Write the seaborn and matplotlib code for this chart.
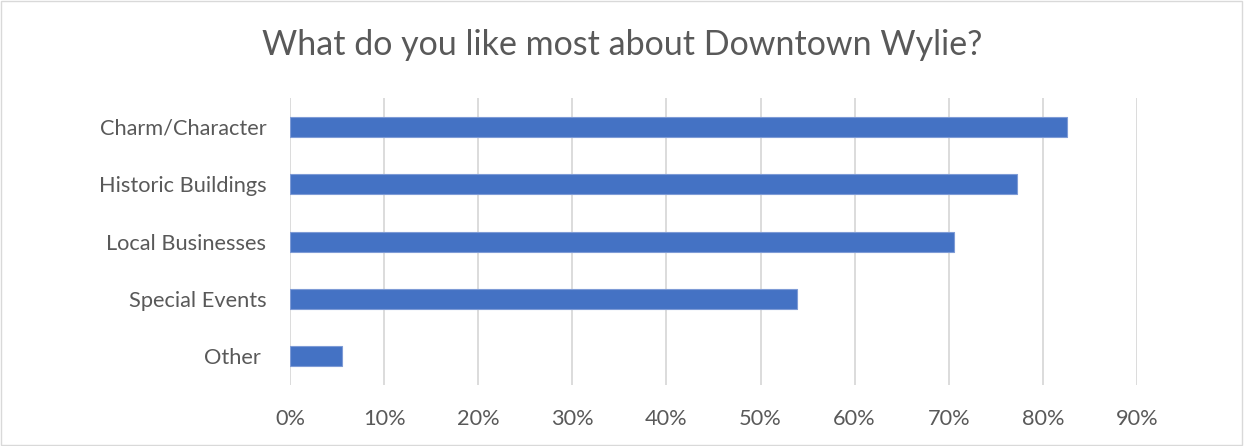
import seaborn as sns
import matplotlib.pyplot as plt
import pandas as pd
from matplotlib.ticker import PercentFormatter
from matplotlib.patches import Rectangle

categories = ["Charm/Character", "Historic Buildings", "Local Businesses", "Special Events", "Other "]
shares = [0.826, 0.772, 0.706, 0.539, 0.055]
xticks = [0, 0.1, 0.2, 0.3, 0.4, 0.5, 0.6, 0.7, 0.8, 0.9]

df = pd.DataFrame({"answer": categories, "share": shares})

sns.set_style("white")
plt.rcParams['font.family'] = ['Lato', 'DejaVu Sans']
text_color = "#595959"

fig = plt.figure(figsize=(12.44, 4.46), dpi=100)
ax = fig.add_axes([0.2331, 0.1368, 0.914 - 0.2331, 0.780 - 0.1368])

sns.barplot(data=df, x="share", y="answer", orient="h", color="#4472C4",
            width=0.35, saturation=1, edgecolor="#7E9BD6", linewidth=0.8, ax=ax)

ax.set_xlim(0, 0.9)
ax.set_ylim(4.5, -0.5)
ax.set_xticks(xticks)
ax.xaxis.set_major_formatter(PercentFormatter(1.0, decimals=0))
ax.grid(axis="x", color="#D9D9D9", linewidth=1.3)
ax.set_axisbelow(True)
for s in ax.spines.values():
    s.set_visible(False)
ax.tick_params(axis="both", length=0, labelsize=15.7, colors=text_color)
ax.tick_params(axis="x", pad=17)
ax.tick_params(axis="y", pad=17)
ax.set_xlabel("")
ax.set_ylabel("")

fig.text(0.5, 0.898, "What do you like most about Downtown Wylie?", ha="center", va="center",
         fontsize=24.5, color=text_color)

fig.patches.append(Rectangle((0.001, 0.002), 0.997, 0.995, transform=fig.transFigure,
                             fill=False, edgecolor="#D9D9D9", linewidth=1))

plt.savefig("out.png", dpi=100)
